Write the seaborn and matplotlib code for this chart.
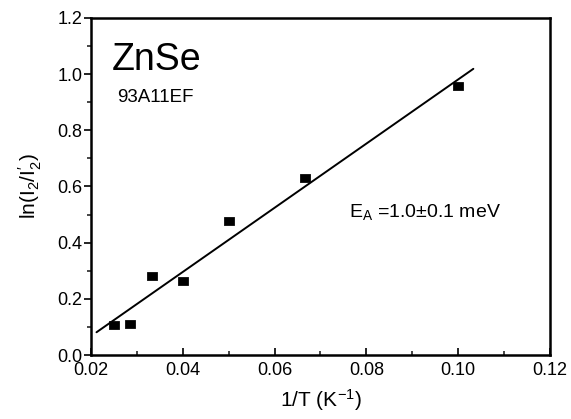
import matplotlib
matplotlib.use("Agg")
import matplotlib.pyplot as plt
import seaborn as sns
import numpy as np
import pandas as pd
from matplotlib.ticker import MultipleLocator

# Data
inv_T = [0.025, 0.0286, 0.0333, 0.040, 0.050, 0.0667, 0.100]
ln_ratio = [0.108, 0.112, 0.283, 0.262, 0.476, 0.632, 0.958]
fit_x = [0.0212, 0.1033]
fit_y = [0.081, 1.019]

sns.set_theme(style="ticks")
plt.rcParams['font.family'] = ['Liberation Sans', 'DejaVu Sans']
plt.rcParams['mathtext.fontset'] = 'custom'
plt.rcParams['mathtext.rm'] = 'Liberation Sans'
plt.rcParams['mathtext.it'] = 'Liberation Sans'

fig = plt.figure(figsize=(5.71, 4.19), dpi=100)
ax = fig.add_axes([91/571, 1-355/419, (550-91)/571, (355-18)/419])

df = pd.DataFrame({"x": inv_T, "y": ln_ratio})
fit = pd.DataFrame({"x": fit_x, "y": fit_y})

sns.lineplot(data=fit, x="x", y="y", ax=ax, color="black", linewidth=1.4)
rect = [(-1.35, -1), (1.35, -1), (1.35, 1), (-1.35, 1), (-1.35, -1)]
sns.scatterplot(data=df, x="x", y="y", ax=ax, marker=rect, s=48,
                color="black", edgecolor="black", zorder=3)

ax.set_xlim(0.02, 0.12)
ax.set_ylim(0.0, 1.2)
ax.xaxis.set_major_locator(MultipleLocator(0.02))
ax.xaxis.set_minor_locator(MultipleLocator(0.01))
ax.yaxis.set_major_locator(MultipleLocator(0.2))
ax.yaxis.set_minor_locator(MultipleLocator(0.1))
ax.xaxis.set_major_formatter(matplotlib.ticker.FormatStrFormatter('%.2f'))
ax.yaxis.set_major_formatter(matplotlib.ticker.FormatStrFormatter('%.1f'))

ax.tick_params(axis='x', which='major', direction='in', length=5, width=1.2, labelsize=13, pad=5, colors='black')
ax.tick_params(axis='x', which='minor', direction='in', length=3, width=1.2)
ax.tick_params(axis='y', which='major', direction='out', length=5, width=1.2, labelsize=13, pad=1, colors='black')
ax.tick_params(axis='y', which='minor', direction='out', length=3, width=1.2)

for s in ax.spines.values():
    s.set_visible(True)
    s.set_color('black')
    s.set_linewidth(1.8)

ax.set_xlabel("1/T (K$^{-1}$)", fontsize=15, labelpad=6, color='black')
ax.set_ylabel("ln(I$_2$/I$_2^{\\prime}$)", fontsize=15, labelpad=10, color='black')

ax.text(0.0245, 1.015, "ZnSe", fontsize=27, color='black', ha='left', va='baseline')
ax.text(0.0258, 0.90, "93A11EF", fontsize=13.5, color='black', ha='left', va='baseline')
ax.text(0.0762, 0.49, "E$_A$ =1.0\u00b10.1 meV", fontsize=14, color='black', ha='left', va='baseline')

fig.savefig("out.png", dpi=100, facecolor='white')
